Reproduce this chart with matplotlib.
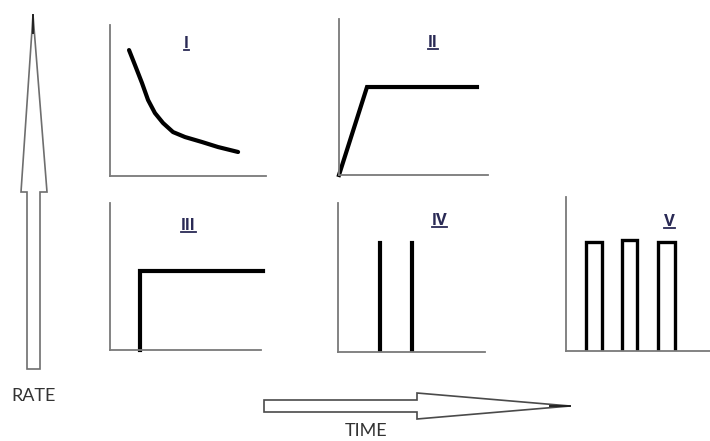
import matplotlib
matplotlib.use("Agg")
import matplotlib.pyplot as plt
from matplotlib.patches import Polygon
from matplotlib.lines import Line2D

W, H = 710, 441

# panel data (axis units 0..10)
panel_labels = ["I", "II", "III", "IV", "V"]

curve_x = [1.22, 1.60, 2.05, 2.44, 2.88, 3.40, 4.04, 4.81, 5.90, 6.92, 8.21]
curve_y = [8.34, 7.35, 6.16, 5.03, 4.17, 3.51, 2.91, 2.58, 2.25, 1.92, 1.59]

ramp_x = [0.0, 1.88, 9.26]
ramp_y = [0.0, 5.64, 5.64]

step_x = [1.99, 1.99, 10.13]
step_y = [0.0, 5.37, 5.37]

spike_x = [2.86, 5.03]
spike_top = 7.32

pulse_start = [1.39, 3.89, 6.39]
pulse_end = [2.5, 4.93, 7.57]
pulse_top = [7.08, 7.21, 7.08]

# layout: pixel boxes (left, top, right, bottom)
boxes = [(110, 25, 266, 176), (339, 19, 488, 175), (110, 203, 261, 350),
         (338, 203, 485, 352), (566, 197, 710, 351)]
label_pos = [(0.49, 0.88), (0.63, 0.85), (0.52, 0.85), (0.69, 0.88), (0.72, 0.84)]


def fig_xy(x, y):
    return (x / W, 1 - y / H)


fig = plt.figure(figsize=(W / 100, H / 100), dpi=100)
fig.patch.set_facecolor("white")

axes = []
for (l, t, r, b) in boxes:
    ax = fig.add_axes([l / W, 1 - b / H, (r - l) / W, (b - t) / H])
    ax.set_xlim(0, 10)
    ax.set_ylim(0, 10)
    for s in ["top", "right"]:
        ax.spines[s].set_visible(False)
    for s in ["left", "bottom"]:
        ax.spines[s].set_color("#7a7a7a")
        ax.spines[s].set_linewidth(1.3)
    ax.set_xticks([])
    ax.set_yticks([])
    ax.patch.set_alpha(0)
    axes.append(ax)

lw = 3.0
axes[0].plot(curve_x, curve_y, color="black", lw=lw, solid_capstyle="round",
             solid_joinstyle="round")
axes[1].plot(ramp_x, ramp_y, color="black", lw=lw, solid_joinstyle="miter", clip_on=False)
axes[2].plot(step_x, step_y, color="black", lw=lw, solid_joinstyle="miter", clip_on=False)
for sx in spike_x:
    axes[3].plot([sx, sx], [0, spike_top], color="black", lw=lw)
for x0, x1, top in zip(pulse_start, pulse_end, pulse_top):
    axes[4].plot([x0, x0, x1, x1], [0, top, top, 0], color="black", lw=2.4,
                 solid_joinstyle="miter")

label_color = "#2a2a55"
texts = []
for ax, lab, (lx, ly) in zip(axes, panel_labels, label_pos):
    t = ax.text(lx, ly, lab, transform=ax.transAxes, ha="center", va="center",
                fontsize=12, fontweight="bold", family="Roboto", color=label_color)
    texts.append(t)

# arrows
up_arrow = [(33, 15), (47, 192), (40, 192), (40, 369), (27, 369), (27, 192), (21, 192)]
fig.add_artist(Polygon([fig_xy(x, y) for x, y in up_arrow], closed=True,
                       transform=fig.transFigure, facecolor="white",
                       edgecolor="#6e6e6e", lw=1.2))
fig.add_artist(Line2D([33 / W, 33 / W], [1 - 15 / H, 1 - 33 / H],
                      transform=fig.transFigure, color="#222222", lw=1.4))

right_arrow = [(264, 400), (417, 400), (417, 393), (570, 406), (417, 419), (417, 412), (264, 412)]
fig.add_artist(Polygon([fig_xy(x, y) for x, y in right_arrow], closed=True,
                       transform=fig.transFigure, facecolor="white",
                       edgecolor="#4a4a4a", lw=1.2))
fig.add_artist(Line2D([550 / W, 570 / W], [1 - 406 / H, 1 - 406 / H],
                      transform=fig.transFigure, color="#222222", lw=1.4))

fig.text(34 / W, 1 - 396 / H, "RATE", ha="center", va="center", fontsize=13,
         family="Lato", color="#333333")
fig.text(366 / W, 1 - 431 / H, "TIME", ha="center", va="center", fontsize=13,
         family="Lato", color="#333333")

# underline the panel labels
fig.canvas.draw()
renderer = fig.canvas.get_renderer()
for t in texts:
    bb = t.get_window_extent(renderer)
    yline = bb.y0 + 1
    fig.add_artist(Line2D([bb.x0 / W, bb.x1 / W], [yline / H, yline / H],
                          transform=fig.transFigure, color=label_color, lw=1.3))

fig.savefig("out.png", dpi=100, facecolor="white")
